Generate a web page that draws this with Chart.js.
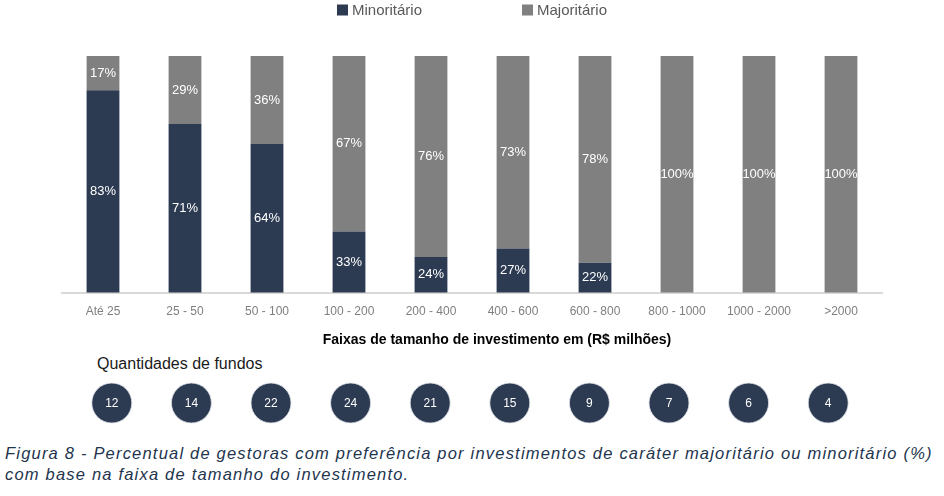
<!DOCTYPE html>
<html lang="pt-BR">
<head>
<meta charset="utf-8">
<script src="https://cdn.jsdelivr.net/npm/chart.js@4.4.1/dist/chart.umd.min.js"></script>
<style>
  html, body { margin: 0; padding: 0; background: #fff; }
  body { width: 944px; height: 496px; position: relative; overflow: hidden; font-family: "Liberation Sans", Arial, sans-serif; }
  #mainWrap { position: absolute; left: 0; top: 0; width: 944px; height: 341px; }
  #axisTitle { position: absolute; left: 497px; top: 331px; transform: translateX(-50%); white-space: nowrap;
    font-weight: bold; font-size: 14px; color: #000; }
  #qtdTitle { position: absolute; left: 97px; top: 355px; font-size: 16px; color: #1a1a1a; }
  #fundsWrap { position: absolute; left: 72px; top: 378px; width: 796px; height: 50px; }
  #caption { position: absolute; left: 5px; top: 443px; font-style: italic; font-size: 16.5px; line-height: 21px;
    color: #22344d; letter-spacing: 1.2px; white-space: nowrap; }
</style>
</head>
<body>
<div id="mainWrap"><canvas id="barChart"></canvas></div>
<div id="axisTitle">Faixas de tamanho de investimento em (R$ milhões)</div>
<div id="qtdTitle">Quantidades de fundos</div>
<div id="fundsWrap"><canvas id="fundsChart"></canvas></div>
<div id="caption">Figura 8 - Percentual de gestoras com preferência por investimentos de caráter majoritário ou minoritário (%)<br>com base na faixa de tamanho do investimento.</div>
<script>
const categories = ['Até 25', '25 - 50', '50 - 100', '100 - 200', '200 - 400', '400 - 600', '600 - 800', '800 - 1000', '1000 - 2000', '>2000'];
const minoritario = [83, 71, 64, 33, 24, 27, 22, 0, 0, 0];
const majoritario = [17, 29, 36, 67, 76, 73, 78, 100, 100, 100];
const quantidadeFundos = [12, 14, 22, 24, 21, 15, 9, 7, 6, 4];

// the value axis of the original does not start at zero (bars are cut at both ends)
const yMin = 11.4;
const yMax = 95.1;

const DARK = '#2c3a52';
const GRAY = '#808080';
const FONT = '"Liberation Sans", Arial, sans-serif';

// white % labels centred on the visible part of every segment
const segmentLabels = {
  id: 'segmentLabels',
  afterDatasetsDraw(chart) {
    const { ctx, chartArea } = chart;
    ctx.save();
    ctx.font = '13px ' + FONT;
    ctx.fillStyle = '#fff';
    ctx.textAlign = 'center';
    ctx.textBaseline = 'middle';
    chart.data.datasets.forEach((ds, i) => {
      chart.getDatasetMeta(i).data.forEach((bar, j) => {
        const v = ds.data[j];
        if (!v) return;
        const top = Math.max(Math.min(bar.y, bar.base), chartArea.top);
        const bottom = Math.min(Math.max(bar.y, bar.base), chartArea.bottom);
        ctx.fillText(v + '%', bar.x, (top + bottom) / 2);
      });
    });
    ctx.restore();
  }
};

// legend drawn by hand so the two items can sit far apart like the original
const wideLegend = {
  id: 'wideLegend',
  afterDraw(chart) {
    const { ctx, chartArea } = chart;
    const gap = 100, box = 11;
    ctx.save();
    ctx.font = '15px ' + FONT;
    const items = chart.data.datasets.map(ds => ({ text: ds.label, color: ds.backgroundColor, w: ctx.measureText(ds.label).width }));
    const total = items.reduce((s, it) => s + box + 4 + it.w, 0) + gap * (items.length - 1);
    let x = (chartArea.left + chartArea.right) / 2 - total / 2;
    const y = 10;
    items.forEach(it => {
      ctx.fillStyle = it.color;
      ctx.fillRect(x, y - box / 2, box, box);
      ctx.fillStyle = '#595959';
      ctx.textBaseline = 'middle';
      ctx.fillText(it.text, x + box + 4, y + 1);
      x += box + 4 + it.w + gap;
    });
    ctx.restore();
  }
};

new Chart(document.getElementById('barChart'), {
  type: 'bar',
  data: {
    labels: categories,
    datasets: [
      { label: 'Minoritário', data: minoritario, backgroundColor: DARK },
      { label: 'Majoritário', data: majoritario, backgroundColor: GRAY }
    ]
  },
  options: {
    responsive: true,
    maintainAspectRatio: false,
    animation: false,
    barPercentage: 0.4,
    categoryPercentage: 1,
    layout: { padding: { top: 56, left: 62, right: 62, bottom: 10 } },
    plugins: {
      legend: { display: false },
      tooltip: { enabled: false }
    },
    scales: {
      x: {
        stacked: true,
        grid: { display: false, drawTicks: false },
        border: { display: true, color: '#d9d9d9', width: 2 },
        ticks: { color: '#7f7f7f', font: { family: FONT, size: 12 }, padding: 12, maxRotation: 0, autoSkip: false }
      },
      y: { stacked: true, display: false, min: yMin, max: yMax }
    }
  },
  plugins: [segmentLabels, wideLegend]
});

// number inside every circle
const circleLabels = {
  id: 'circleLabels',
  afterDatasetsDraw(chart) {
    const { ctx } = chart;
    ctx.save();
    ctx.font = '12px ' + FONT;
    ctx.fillStyle = '#fff';
    ctx.textAlign = 'center';
    ctx.textBaseline = 'middle';
    chart.getDatasetMeta(0).data.forEach((pt, j) => {
      ctx.fillText(String(quantidadeFundos[j]), pt.x, pt.y + 1);
    });
    ctx.restore();
  }
};

new Chart(document.getElementById('fundsChart'), {
  type: 'line',
  data: {
    labels: categories,
    datasets: [{
      label: 'Quantidades de fundos',
      data: quantidadeFundos.map(() => 0),
      showLine: false,
      pointRadius: 20,
      pointBackgroundColor: DARK,
      pointBorderColor: '#dfe3ea',
      pointBorderWidth: 0.8,
      clip: false
    }]
  },
  options: {
    responsive: true,
    maintainAspectRatio: false,
    animation: false,
    layout: { padding: 0, autoPadding: false },
    plugins: { legend: { display: false }, tooltip: { enabled: false } },
    scales: {
      x: { display: false, offset: true },
      y: { display: false, min: -1, max: 1 }
    }
  },
  plugins: [circleLabels]
});
</script>
</body>
</html>
